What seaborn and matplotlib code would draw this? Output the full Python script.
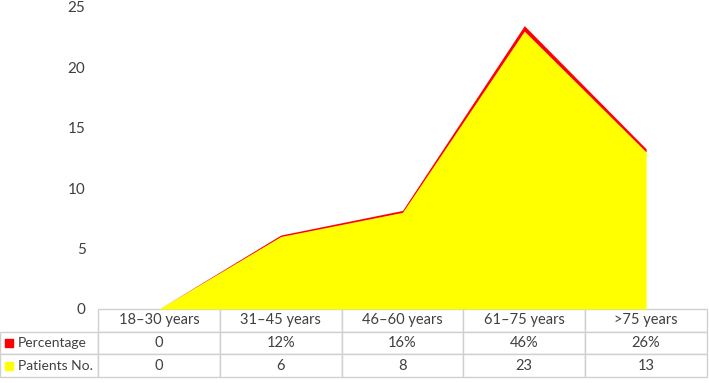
import numpy as np
import matplotlib
matplotlib.use("Agg")
import matplotlib.pyplot as plt
import seaborn as sns

age_groups = ["18\u201330 years", "31\u201345 years", "46\u201360 years", "61\u201375 years", ">75 years"]
patients = [0, 6, 8, 23, 13]
percentage = [0, 0.12, 0.16, 0.46, 0.26]
pct_labels = ["0", "12%", "16%", "46%", "26%"]
series_names = ["Percentage", "Patients No."]
yticks = [0, 5, 10, 15, 20, 25]

RED = "#FF0000"
YELLOW = "#FFFF00"
GRID = "#D0D0D0"
TXT = "#404040"


def main():
    sns.set_theme(style="white")
    plt.rcParams["font.family"] = ["Lato", "DejaVu Sans"]

    W, H = 709, 383
    fig = plt.figure(figsize=(W / 100, H / 100), dpi=100)
    left, right, top, bottom = 98, 707, 7, 309
    ax = fig.add_axes([left / W, (H - bottom) / H, (right - left) / W, (bottom - top) / H])

    x = np.arange(len(age_groups))
    ax.stackplot(x, patients, percentage, colors=[YELLOW, RED], linewidth=0)

    ax.set_xlim(-0.5, len(age_groups) - 0.5)
    ax.set_ylim(0, 25)
    ax.set_yticks(yticks)
    ax.set_yticklabels([str(t) for t in yticks], fontsize=11, color=TXT)
    ax.tick_params(axis="y", length=0, pad=9)
    ax.set_xticks([])
    for s in ax.spines.values():
        s.set_visible(False)
    ax.grid(False)

    # data table below the plot
    cell_text = [[""] + age_groups,
                 [""] + pct_labels,
                 [""] + [str(v) for v in patients]]
    ax_w = right - left
    ax_h = bottom - top
    tbl_h = 68
    col_w = [98] + [ax_w / len(age_groups)] * len(age_groups)
    tbl = ax.table(cellText=cell_text, colWidths=[c / ax_w for c in col_w],
                   bbox=[-98 / ax_w, -tbl_h / ax_h, 707 / ax_w, tbl_h / ax_h],
                   cellLoc="center")
    tbl.auto_set_font_size(False)
    for (r, c), cell in tbl.get_celld().items():
        cell.set_edgecolor(GRID)
        cell.set_linewidth(1.0)
        cell.get_text().set_fontsize(10.5)
        cell.get_text().set_color(TXT)
        if r == 0 and c == 0:
            cell.visible_edges = ""

    # row labels with colour keys
    for i, (name, col) in enumerate(zip(series_names, [RED, YELLOW])):
        yk = -(tbl_h / 3) * (i + 1.5) / ax_h
        ax.scatter([-89 / ax_w], [yk], marker="s", s=30, color=col,
                   transform=ax.transAxes, clip_on=False, zorder=5)
        ax.text(-80 / ax_w, yk, name, transform=ax.transAxes, ha="left",
                va="center", fontsize=10, color=TXT)

    fig.savefig("out.png", dpi=100)


if __name__ == "__main__":
    main()
